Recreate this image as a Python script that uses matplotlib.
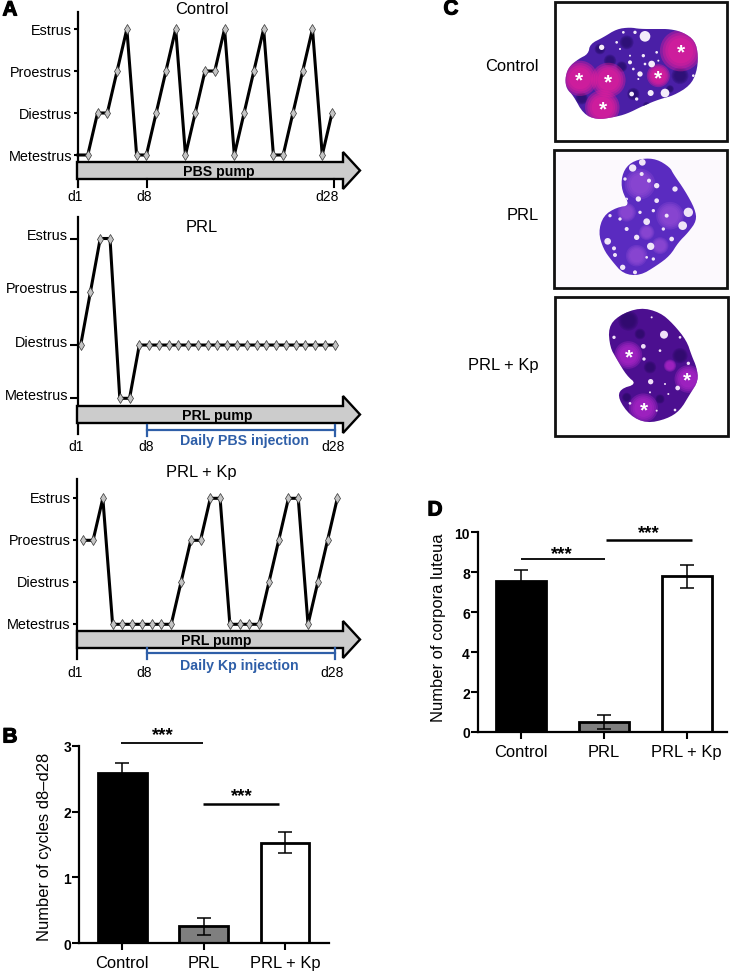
import matplotlib
matplotlib.use("Agg")
import matplotlib.pyplot as plt
import matplotlib.patheffects as pe
from matplotlib.patches import Polygon, Circle, Rectangle
from matplotlib.transforms import ScaledTranslation
import numpy as np

plt.rcParams['font.family'] = ['Liberation Sans', 'DejaVu Sans']
W, H = 732, 978

stages = ["Metestrus", "Diestrus", "Proestrus", "Estrus"]
# cycle stage per day, 0=metestrus .. 3=estrus
control_days = [0,0,1,1,2,3,0,0,1,2,3,0,1,2,2,3,0,1,2,3,0,0,1,2,3,0,1]
prl_days = [1,2,3,3,0,0] + [1]*21
kp_days = [2,2,3,0,0,0,0,0,0,0,1,2,2,3,3,0,0,0,0,1,2,3,3,0,1,2,3]

groups = ["Control", "PRL", "PRL + Kp"]
cycles = [2.58, 0.26, 1.53]
cycles_err = [0.155, 0.13, 0.16]
luteua = [7.56, 0.5, 7.8]
luteua_err = [0.54, 0.34, 0.58]
bar_colors = ["black", "#7f7f7f", "white"]

fig = plt.figure(figsize=(W/100, H/100), dpi=100)

def px_axes(x0, y0, x1, y1, **kw):
    return fig.add_axes([x0/W, 1-y1/H, (x1-x0)/W, (y1-y0)/H], **kw)

# overlay in pixel coordinates for arrows, brackets, tissue pictures
ov = px_axes(0, 0, W, H)
ov.set_xlim(0, W)
ov.set_ylim(H, 0)
ov.axis("off")
ov.set_zorder(5)

def cycle_panel(days, axis_x, first_x, ys, top, bottom, tick_len, label_dy, title, title_y, skip=0):
    dx = 9.77
    per = (ys[0]-ys[3])/3
    ax = px_axes(axis_x, top, 345, bottom)
    ax.patch.set_alpha(0)
    ax.set_xlim((axis_x-first_x)/dx, (345-first_x)/dx)
    ax.set_ylim((ys[0]-bottom)/per, (ys[0]-top)/per)
    ax.plot(range(len(days)), days, color="black", lw=2.2, marker="d", ms=4.6, mfc="#c4c4c4",
            mec="#333333", mew=0.5, clip_on=False, markevery=list(range(skip, len(days))))
    for s in ["top", "right", "bottom"]:
        ax.spines[s].set_visible(False)
    ax.spines["left"].set_linewidth(1.6)
    ax.set_xticks([])
    ax.set_yticks(range(4))
    ax.set_yticklabels(stages, fontsize=10.4)
    ax.tick_params(axis="y", length=tick_len*0.72, width=1.5, pad=1.5)
    for lab in ax.get_yticklabels():
        lab.set_transform(lab.get_transform() + ScaledTranslation(0, label_dy/100, fig.dpi_scale_trans))
    ov.text(201.7, title_y, title, fontsize=11.9, ha="center", va="center")
    return ax

def pump_arrow(y_mid, label, lab_x):
    pts = [(77, y_mid-8.5), (343, y_mid-8.5), (343, y_mid-18.5), (360, y_mid), (343, y_mid+18.5),
           (343, y_mid+8.5), (77, y_mid+8.5)]
    ov.add_patch(Polygon(pts, closed=True, fc="#cccccc", ec="black", lw=1.7, joinstyle="miter"))
    ov.text(lab_x, y_mid+0.2, label, fontsize=10.2, fontweight="bold", ha="center", va="center")

def day_labels(xs, y):
    for x, s in zip(xs, ["d1", "d8", "d28"]):
        ov.text(x, y, s, fontsize=10, ha="center", va="center")

def bracket(y, label, lab_x, lab_y):
    blue = "#2f5fa8"
    ov.plot([146.7, 335], [y, y], color=blue, lw=1.6)
    for x in [146.7, 335]:
        ov.plot([x, x], [y-5, y+6], color=blue, lw=1.6)
    ov.text(lab_x, lab_y, label, color=blue, fontsize=10.2, fontweight="bold", ha="center", va="center")

cycle_panel(control_days, 78, 78, [156, 113.5, 72, 30], 13, 188, 4, 0.5, "Control", 9, skip=1)
pump_arrow(171.5, "PBS pump", 218.7)
ov.plot([147, 147], [180, 188], color="black", lw=1.5)
ov.plot([334, 334], [180, 188], color="black", lw=1.5)
day_labels([75, 143.7, 327], 197)

cycle_panel(prl_days, 78, 80.7, [399.3, 345, 292, 239.5], 218, 435, 8, 5, "PRL", 227)
pump_arrow(415.5, "PRL pump", 217)
bracket(430.7, "Daily PBS injection", 245, 440.7)
day_labels([76, 145.7, 332.7], 447)

cycle_panel(kp_days, 76.5, 83.3, [625.3, 582.7, 541.7, 499.3], 480, 660, 4, 2, "PRL + Kp", 472.7)
pump_arrow(640.5, "PRL pump", 216.7)
bracket(654, "Daily Kp injection", 239, 665.7)
day_labels([75, 143.7, 331.7], 672.7)

def bar_panel(vals, errs, box, ymax, yticks, bar_w, ylabel, ylabel_pos):
    ax = px_axes(*box)
    ax.patch.set_alpha(0)
    x = np.arange(3)
    ax.bar(x, vals, width=bar_w, color=bar_colors, edgecolor="black", linewidth=2)
    ax.errorbar(x, vals, yerr=errs, fmt="none", ecolor="black", elinewidth=1.1, capsize=5, capthick=1.1)
    ax.set_ylim(0, ymax)
    ax.set_xticks(x)
    ax.set_xticklabels(groups, fontsize=11.9)
    ax.set_yticks(yticks)
    ax.tick_params(axis="x", length=5, width=1.5, pad=3.5)
    ax.tick_params(axis="y", length=5, width=1.5, pad=1, labelsize=10)
    for lab in ax.get_yticklabels():
        lab.set_fontweight("bold")
    for s in ["top", "right"]:
        ax.spines[s].set_visible(False)
    ax.spines["left"].set_linewidth(1.6)
    ax.spines["bottom"].set_linewidth(1.6)
    ov.text(ylabel_pos[0], ylabel_pos[1], ylabel, fontsize=11.9, rotation=90, ha="center", va="center")
    return ax

ax_b = bar_panel(cycles, cycles_err, (79.3, 746.7, 329, 944.3), 3, [0, 1, 2, 3], 0.595,
                 "Number of cycles d8\u2013d28", (45, 847))
ax_b.set_xlim((79.3-122.3)/81.4, (329-122.3)/81.4)
ax_d = bar_panel(luteua, luteua_err, (478.3, 533.3, 726.7, 733), 10, [0, 2, 4, 6, 8, 10], 0.6,
                 "Number of corpora luteua", (439, 628))
ax_d.set_xlim((478.3-520.7)/83, (726.7-520.7)/83)

def sig(x0, x1, y, sx, sy, lw):
    ov.plot([x0, x1], [y, y], color="black", lw=lw, solid_capstyle="butt")
    ov.text(sx, sy, "***", fontsize=13.5, fontweight="bold", ha="center", va="center")

sig(120.7, 202.7, 744.3, 163, 736, 1.3)
sig(203, 279.3, 804.7, 241.7, 797, 1.8)
sig(520.7, 605, 560.3, 562, 555, 1.3)
sig(606, 691.7, 541.3, 649, 534, 1.8)

for s, x, y in [("A", 10, 11), ("B", 10, 738), ("C", 451, 10), ("D", 435, 511)]:
    ov.text(x, y, s, fontsize=15, fontweight="bold", ha="center", va="center",
            path_effects=[pe.withStroke(linewidth=0.8, foreground="black")])

# --- panel C, stained sections, outlines (zoom coords) ---
ctrl_outline = [(375,240),(385,205),(415,180),(445,165),(450,135),(490,115),(530,90),(570,85),(600,90),
                (650,90),(690,90),(730,100),(765,125),(775,170),(770,220),(750,260),(700,290),(660,300),
                (610,320),(560,345),(520,355),(470,362),(430,345),(400,290),(380,270)]
ctrl_pink = [(420,238,46),(505,243,45),(487,325,45),(722,155,54),(655,230,30)]
ctrl_holes = [(615,112,16),(675,282,13),(632,282,9),(575,285,7),(600,225,8),(635,195,10),(570,190,6),
              (610,170,5),(485,145,8),(550,100,4),(585,100,5),(530,130,4),(760,230,4),(590,300,5),
              (580,210,4),(615,195,4),(650,160,4),(595,240,3),(570,170,3),(540,150,3),(655,185,3)]
ctrl_dark = [(545,203,14),(580,285,16),(510,185,16),(720,230,22),(425,298,16),(480,150,14),(560,130,18),
             (620,320,10),(690,270,10)]
ctrl_stars = [(418,238),(503,243),(489,325),(724,155),(654,231)]

prl_outline = [(545,530),(565,495),(605,478),(650,480),(690,505),(700,525),(735,575),(765,630),(770,665),
               (745,700),(715,730),(690,770),(650,800),(600,830),(550,825),(515,785),(490,750),(475,700),
               (490,650),(530,625),(570,620),(545,575)]
prl_holes = [(607,490,10),(578,507,11),(728,680,13),(503,727,10),(632,742,11),(745,640,14),(620,668,10),
             (595,600,8),(650,605,7),(650,560,8),(605,525,6),(627,545,6),(705,570,8),(680,650,6),(590,715,8),
             (522,748,6),(525,768,6),(548,805,8),(585,820,6),(560,690,6),(540,660,5),(695,720,7),(510,650,5),
             (670,690,5),(600,640,5),(555,540,5),(640,635,5),(560,600,4),(640,780,5),(620,775,4)]
prl_light = [(600,555,40),(690,650,36),(590,770,28),(560,640,24),(660,740,22),(620,700,20)]

kp_outline = [(505,130),(535,95),(600,70),(660,85),(700,120),(740,170),(755,215),(770,250),(775,290),
              (750,330),(720,380),(680,405),(620,418),(570,395),(535,345),(540,315),(590,300),(560,275),
              (530,225),(510,190)]
kp_glow = [(565,213,36),(745,285,36),(610,372,38),(690,245,16)]
kp_holes = [(672,152,12),(610,187,7),(713,312,7),(632,293,8),(522,160,5),(612,225,5),(720,160,4),(745,238,5),
            (660,200,4),(685,330,3),(630,325,3),(675,300,3),(570,358,4),(705,378,4),(650,380,3),(635,100,3)]
kp_dark = [(565,110,26),(720,215,20),(630,250,16),(600,150,14),(660,345,12),(560,340,12)]
kp_stars = [(566,213),(742,284),(611,372)]

def smooth(pts):
    pts = np.array(pts, dtype=float)
    for _ in range(2):
        nxt = np.roll(pts, -1, axis=0)
        pts = np.column_stack([0.75*pts+0.25*nxt, 0.25*pts+0.75*nxt]).reshape(-1, 2)
    return pts

to_c = lambda x, y, oy: (440+x/3, oy+y/3)

def section(outline, oy, body, spots):
    pts = [to_c(x, y, oy) for x, y in outline]
    poly = Polygon(smooth(pts), closed=True, fc=body, ec="none", zorder=2)
    ov.add_patch(poly)
    for group, color, alpha, z, soft in spots:
        for x, y, r in group:
            # soft edged blobs: a few stacked circles
            for f in ([1.0] if not soft else [1.15, 1.0, 0.85, 0.7]):
                c = Circle(to_c(x, y, oy), r*f/3, fc=color, ec="none", alpha=alpha if not soft else alpha*0.4, zorder=z)
                ov.add_patch(c)
                c.set_clip_path(poly)

def frame(x0, y0, x1, y1, bg="white"):
    ov.add_patch(Rectangle((x0, y0), x1-x0, y1-y0, fc=bg, ec="#111111", lw=2.0, zorder=1))

frame(555, 3.3, 727.3, 141.7)
section(ctrl_outline, 0, "#4a1fa6", [(ctrl_dark, "#2a0f70", 0.9, 3, True), (ctrl_pink, "#e21d9c", 1, 4, True),
                                     (ctrl_holes, "#f4ecfa", 1, 5, False)])
frame(554, 150.7, 726.7, 288.7, "#fcf9fd")
section(prl_outline, 0, "#5a2bc0", [(prl_light, "#9a4fd8", 0.7, 3, True), (prl_holes, "#efe4f8", 1, 5, False)])
frame(555, 298.3, 727.5, 437)
section(kp_outline, 285, "#4c0f90", [(kp_dark, "#2c0a68", 0.85, 3, True),
                                     (kp_glow, "#b428cc", 0.8, 4, True),
                                     (kp_holes, "#f0e0f8", 1, 5, False)])

for (x, y) in ctrl_stars:
    ov.text(*to_c(x, y+5, 0), "*", color="white", fontsize=15, fontweight="bold", ha="center", va="center", zorder=6)
for (x, y) in kp_stars:
    ov.text(*to_c(x, y+5, 285), "*", color="white", fontsize=15, fontweight="bold", ha="center", va="center", zorder=6)

ov.text(539, 66.5, "Control", fontsize=11.9, ha="right", va="center")
ov.text(539, 216, "PRL", fontsize=11.9, ha="right", va="center")
ov.text(539, 365.5, "PRL + Kp", fontsize=11.9, ha="right", va="center")

fig.savefig("out.png", dpi=100)
